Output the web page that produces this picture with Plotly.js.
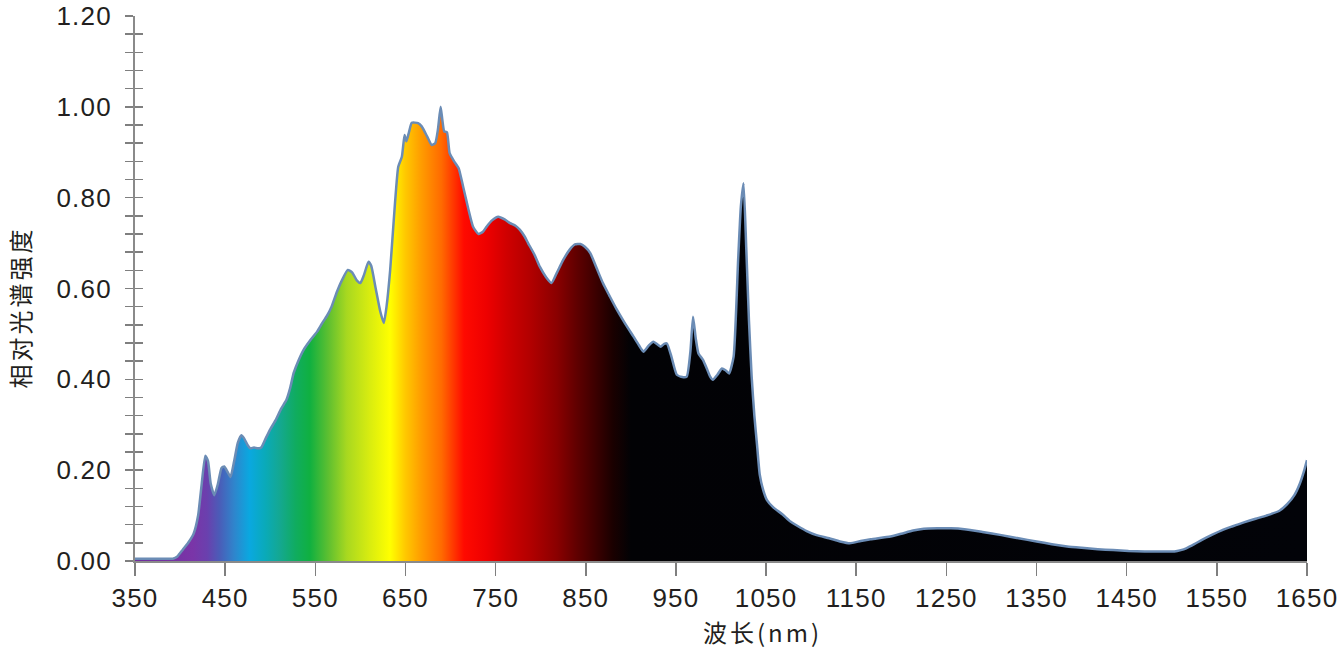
<!DOCTYPE html>
<html>
<head>
<meta charset="utf-8">
<script src="https://cdn.plot.ly/plotly-3.0.1.min.js"></script>
<style>
html,body{margin:0;padding:0;background:#fff;}
#chart{width:1344px;height:650px;}
#chart .xtick text, #chart .ytick text{letter-spacing:1.2px;}
#chart .annotation-text{letter-spacing:3px;}
</style>
</head>
<body>
<div id="chart"></div>
<script>
// Wavelength (nm)
const wavelength = [350,360,380,392,397,403,409,415,420,424,428,431,434,438,442,446,449,453,456,460,464,468,471,475,478,482,486,490,495,500,506,512,518,522,526,531,537,544,552,558,563,568,574,580,586,591,596,600,604,609,612,617,622,626,629,633,637,642,646,649,651,654,657,664,668,674,679,683,686,689,691,693,696,699,704,709,714,720,725,731,736,740,746,753,760,766,772,777,782,786,793,799,806,812,818,825,832,838,844,849,855,862,869,876,884,893,903,909,914,920,925,930,933,937,940,945,951,957,962,966,969,972,975,980,984,988,991,996,1001,1005,1009,1014,1019,1022,1025,1028,1031,1034,1037,1040,1043,1047,1051,1058,1068,1077,1085,1095,1106,1120,1132,1143,1155,1166,1188,1200,1213,1225,1240,1255,1270,1290,1311,1330,1350,1367,1384,1400,1418,1435,1452,1470,1490,1503,1510,1516,1525,1533,1545,1556,1567,1580,1593,1605,1619,1628,1636,1642,1647,1650];
// Relative spectral intensity
const intensity = [0.005,0.005,0.005,0.005,0.01,0.025,0.04,0.06,0.10,0.17,0.232,0.22,0.17,0.145,0.17,0.205,0.208,0.195,0.185,0.22,0.26,0.277,0.27,0.255,0.248,0.25,0.248,0.25,0.27,0.29,0.31,0.335,0.355,0.38,0.414,0.44,0.465,0.485,0.505,0.525,0.54,0.56,0.593,0.62,0.641,0.635,0.618,0.612,0.63,0.659,0.65,0.6,0.55,0.524,0.56,0.64,0.75,0.868,0.89,0.938,0.924,0.945,0.965,0.964,0.957,0.935,0.916,0.92,0.95,1.0,0.97,0.946,0.944,0.898,0.88,0.865,0.824,0.773,0.736,0.72,0.725,0.736,0.75,0.758,0.752,0.744,0.738,0.729,0.715,0.70,0.675,0.648,0.625,0.612,0.635,0.663,0.685,0.697,0.698,0.692,0.678,0.645,0.612,0.585,0.555,0.525,0.494,0.475,0.461,0.475,0.483,0.476,0.472,0.478,0.479,0.45,0.41,0.405,0.406,0.46,0.538,0.49,0.457,0.443,0.425,0.406,0.399,0.41,0.424,0.42,0.413,0.45,0.663,0.78,0.832,0.69,0.53,0.406,0.32,0.255,0.19,0.155,0.134,0.118,0.103,0.087,0.077,0.066,0.057,0.05,0.043,0.039,0.044,0.048,0.054,0.06,0.067,0.071,0.072,0.072,0.07,0.064,0.057,0.05,0.043,0.037,0.032,0.029,0.026,0.024,0.022,0.021,0.021,0.021,0.024,0.028,0.037,0.046,0.058,0.068,0.076,0.085,0.093,0.1,0.11,0.125,0.145,0.17,0.2,0.222];

const xTickVals = [350,450,550,650,750,850,950,1050,1150,1250,1350,1450,1550,1650];
const xTickText = ['350','450','550','650','750','850','950','1050','1150','1250','1350','1450','1550','1650'];
const yTickVals = [0,0.2,0.4,0.6,0.8,1.0,1.2];
const yTickText = ['0.00','0.20','0.40','0.60','0.80','1.00','1.20'];
const xTitle = '波长(nm)';
const yTitle = '相对光谱强度';

// spectrum gradient (style)
const gradNm = [350,414,430,444,460,477,495,511,528,544,565,585,610,633,650,666,690,715,740,762,790,818,840,862,880,900,1650];
const gradColors = ['#6e2c9c','#7a35a8','#6a40ae','#4a5db8','#2f85cc','#0aa8e0','#0aaab8','#14a890','#10ac60','#10b040','#60c030','#a8d820','#d8ec10','#ffff00','#ffc800','#ffa000','#ff6a00','#ff0a00','#ee0000','#d00000','#b00000','#8a0000','#600000','#3a0000','#1a0000','#020205','#020308'];
const xMin = 350, xMax = 1650;
const colorscale = gradNm.map((n,i)=>[(n-xMin)/(xMax-xMin), gradColors[i]]);

const tickFont = {family:'"Liberation Sans", Arial, sans-serif', size:26, color:'#231f20'};
const titleFont = {family:'"Noto Sans CJK SC", sans-serif', size:24, color:'#231f20'};

const trace = {
  x: wavelength, y: intensity, type:'scatter', mode:'lines',
  line:{color:'#6b8cb5', width:2.5, shape:'spline', smoothing:0.5},
  fill:'tozeroy',
  fillgradient:{type:'horizontal', colorscale: colorscale, start:xMin, stop:xMax},
  hoverinfo:'skip', showlegend:false
};
const dummy = {x:[xMin], y:[0], yaxis:'y2', type:'scatter', mode:'markers', marker:{opacity:0}, showlegend:false, hoverinfo:'skip'};

const layout = {
  width:1344, height:650,
  margin:{l:135, r:37, t:16, b:89},
  paper_bgcolor:'#ffffff', plot_bgcolor:'#ffffff',
  showlegend:false,
  xaxis:{
    range:[xMin,xMax], tickmode:'array', tickvals:xTickVals, ticktext:xTickText,
    ticks:'outside', ticklen:13, tickwidth:1.5, tickcolor:'#7f7f7f',
    showline:true, linecolor:'#8a8a8a', linewidth:2, showgrid:false, zeroline:false,
    tickfont:tickFont, ticklabelstandoff:0, fixedrange:true
  },
  yaxis:{
    range:[0,1.2], tickmode:'array', tickvals:yTickVals, ticktext:yTickText,
    ticks:'outside', ticklen:8, tickwidth:1.5, tickcolor:'#7f7f7f',
    minor:{dtick:0.04, ticks:'outside', ticklen:8, tickwidth:1.5, tickcolor:'#7f7f7f', showgrid:false},
    showline:true, linecolor:'#8a8a8a', linewidth:2, showgrid:false, zeroline:false,
    tickfont:tickFont, ticklabelstandoff:8, fixedrange:true
  },
  yaxis2:{
    range:[0,1.2], overlaying:'y', side:'left', anchor:'x',
    tickmode:'array', tickvals:yTickVals, showticklabels:false,
    ticks:'inside', ticklen:8, tickwidth:1.5, tickcolor:'#7f7f7f',
    minor:{dtick:0.04, ticks:'inside', ticklen:8, tickwidth:1.5, tickcolor:'#7f7f7f', showgrid:false},
    showline:false, showgrid:false, zeroline:false, fixedrange:true
  },
  annotations:[
    {text:xTitle, xref:'paper', yref:'paper', x:0.535, y:0, yshift:-70, xanchor:'center', yanchor:'middle', showarrow:false, font:titleFont},
    {text:yTitle, xref:'paper', yref:'paper', x:0, xshift:-116, y:0.5, yshift:-19, textangle:-90, xanchor:'center', yanchor:'middle', showarrow:false, font:titleFont}
  ]
};

Plotly.newPlot('chart', [trace, dummy], layout, {displayModeBar:false, staticPlot:true});
</script>
</body>
</html>
